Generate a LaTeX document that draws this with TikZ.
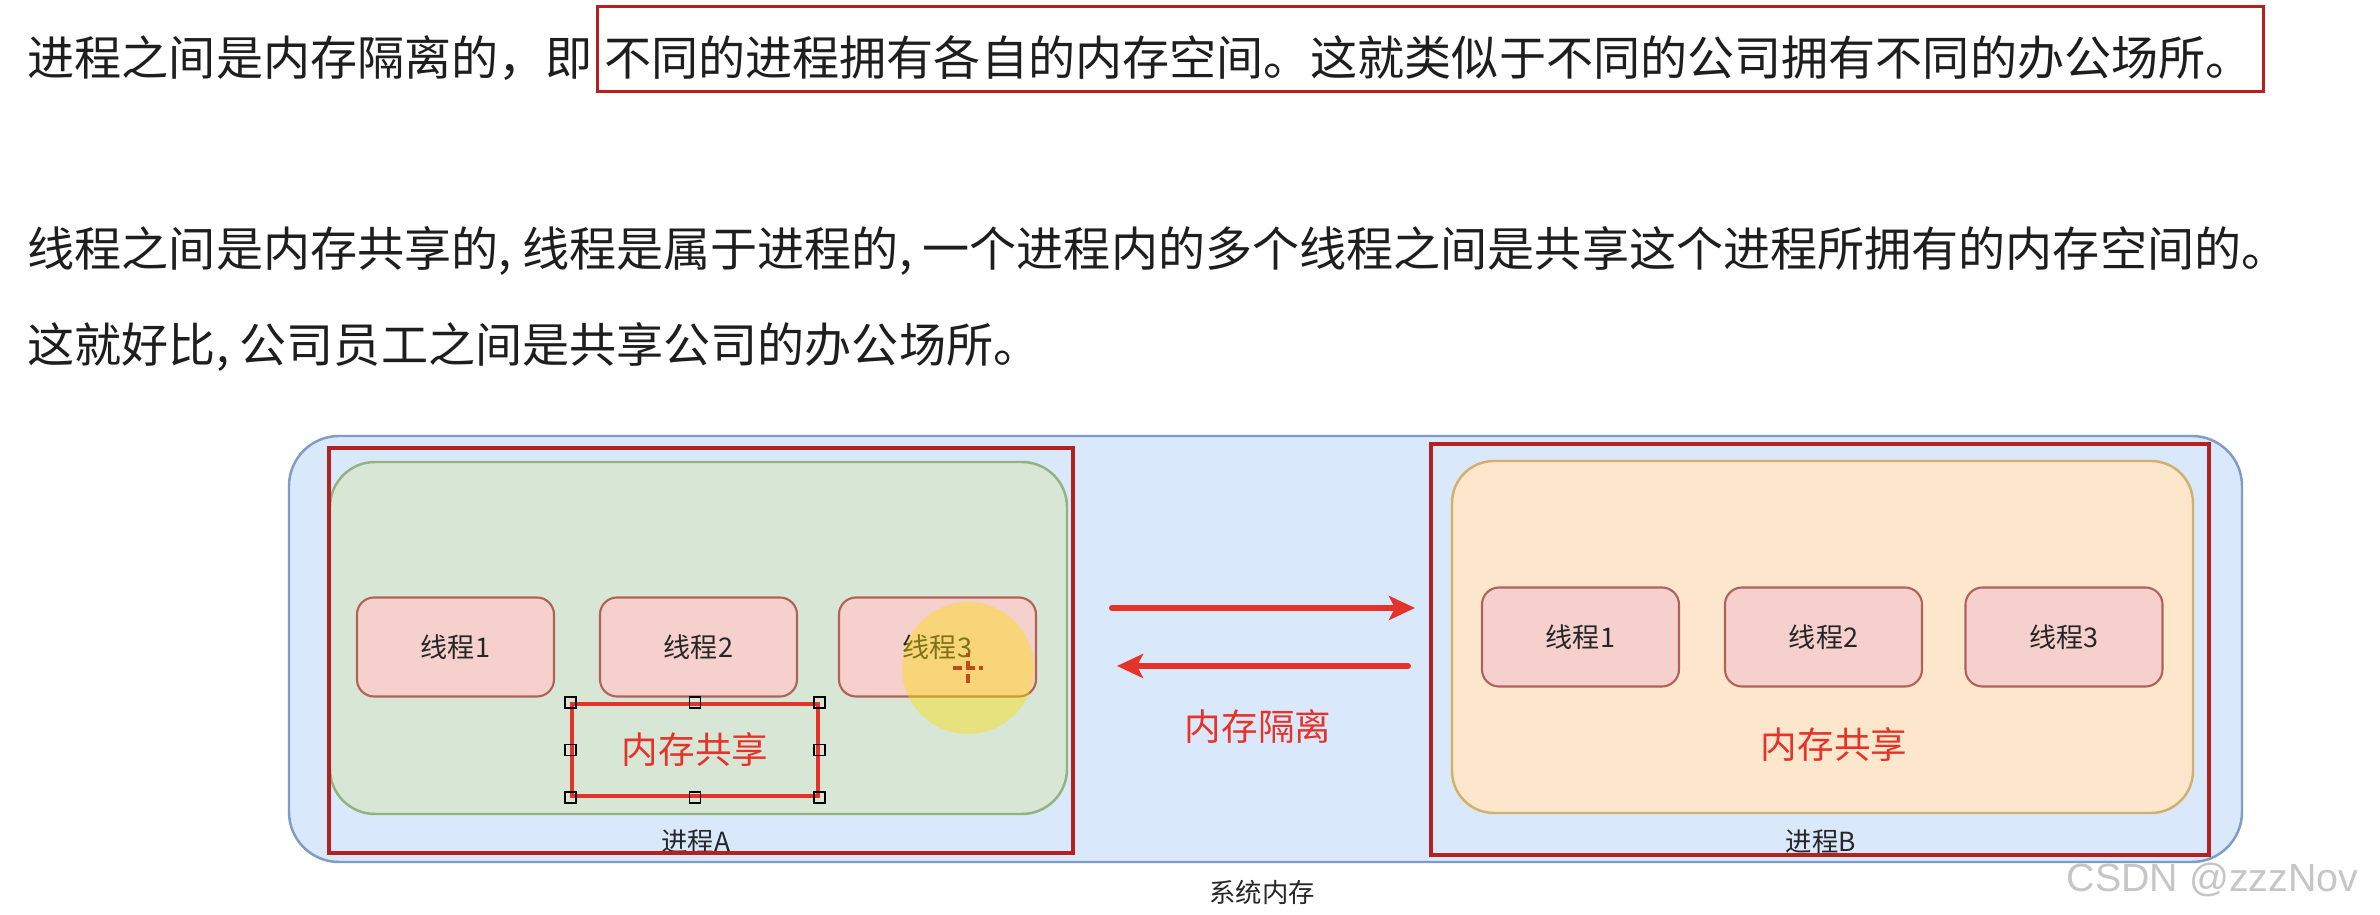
\documentclass[tikz,border=0pt]{standalone}
\usepackage{fontspec}
\setmainfont{Noto Sans CJK SC}
\newfontfamily\wmfont{Liberation Sans}
\usetikzlibrary{arrows.meta, positioning}
\definecolor{memblue}{HTML}{DAE8FC}
\definecolor{memline}{HTML}{7E9CC8}
\definecolor{procgreen}{HTML}{D7E6D5}
\definecolor{greenline}{HTML}{93B27E}
\definecolor{procorange}{HTML}{FDE7CC}
\definecolor{orangeline}{HTML}{D2B06C}
\definecolor{threadpink}{HTML}{F5D0CC}
\definecolor{threadline}{HTML}{B0625A}
\definecolor{markred}{HTML}{B3221E}
\definecolor{isored}{HTML}{E5332A}
\definecolor{bodyink}{HTML}{1E1E1E}
\definecolor{wmgray}{HTML}{C6C6C6}
\definecolor{cursorred}{HTML}{C24A1A}

\begin{document}
\begin{tikzpicture}[
  >={Stealth[length=2.6mm, width=2.4mm, inset=0.6mm]},
  para/.style={font=\fontsize{13.4}{16}\selectfont, text=bodyink, anchor=west, inner sep=0pt},
  thread/.style={draw=threadline, fill=threadpink, rounded corners=1.7mm, line width=0.6pt,
    minimum width=1.97cm, minimum height=0.99cm, inner sep=0pt,
    font=\fontsize{7.7}{9}\selectfont, text=black!85},
  redword/.style={font=\fontsize{10.4}{12}\selectfont, text=isored, inner sep=0pt},
  caption/.style={font=\fontsize{7.5}{9}\selectfont, text=black!85, inner sep=0pt},
  frame/.style={draw=markred, line width=1pt, inner sep=0pt},
  handle/.style={draw=black, line width=0.5pt, minimum size=1.1mm, inner sep=0pt},
  isoarrow/.style={isored, line width=1.7pt, line cap=round},
]

% Page: 2380 x 915 px, 1 cm = 100 px
\fill[white] (0,0) rectangle (23.8,9.15);
\useasboundingbox (0,0) rectangle (23.8,9.15);

% --- Text above the diagram ---
\node[para] (introA) at (0.27,8.57) {进程之间是内存隔离的，即};
\node[para, right=1mm of introA] (introB)
  {不同的进程拥有各自的内存空间。这就类似于不同的公司拥有不同的办公场所。};
\draw[markred, line width=1pt]
  ([shift={(-0.06,0.29)}]introB.north west) rectangle ([shift={(0.10,-0.11)}]introB.south east);

\node[para] (threadline1) at (0.27,6.64)
  {线程之间是内存共享的, 线程是属于进程的, 一个进程内的多个线程之间是共享这个进程所拥有的内存空间的。};
\node[para] (threadline2) at (0.27,5.68)
  {这就好比, 公司员工之间是共享公司的办公场所。};

% --- System memory ---
\node[draw=memline, fill=memblue, rounded corners=5mm, line width=0.7pt,
  minimum width=19.53cm, minimum height=4.26cm] (sysmem) at (12.655,2.66) {};
\node[caption] (sysmemlabel) at (12.62,0.23) {系统内存};

% --- Process A ---
\node[draw=greenline, fill=procgreen, rounded corners=4.5mm, line width=0.7pt,
  minimum width=7.37cm, minimum height=3.52cm] (procA) at (6.985,2.77) {};
\node[thread] (a1) at (4.555,2.68) {线程1};
\node[thread] (a2) at (6.985,2.68) {线程2};
\node[thread] (a3) at (9.375,2.68) {线程3};
\node[redword, draw=isored, line width=1pt, minimum width=2.46cm, minimum height=0.92cm]
  (shareA) at (6.95,1.65) {内存共享};
\node[caption] (procAlabel) at (6.96,0.73) {进程A};

% selection handles round the shared-memory box
\node[handle] (hNW) at (shareA.north west) {};
\node[handle] (hN)  at (shareA.north) {};
\node[handle] (hNE) at (shareA.north east) {};
\node[handle] (hW)  at (shareA.west) {};
\node[handle] (hE)  at (shareA.east) {};
\node[handle] (hSW) at (shareA.south west) {};
\node[handle] (hS)  at (shareA.south) {};
\node[handle] (hSE) at (shareA.south east) {};

% --- Process B ---
\node[draw=orangeline, fill=procorange, rounded corners=4.2mm, line width=0.7pt,
  minimum width=7.41cm, minimum height=3.52cm] (procB) at (18.225,2.78) {};
\node[thread] (b1) at (15.805,2.78) {线程1};
\node[thread] (b2) at (18.235,2.78) {线程2};
\node[thread] (b3) at (20.64,2.78) {线程3};
\node[redword] (shareB) at (18.34,1.70) {内存共享};
\node[caption] (procBlabel) at (18.21,0.73) {进程B};

% --- Isolation arrows ---
\coordinate (isoAout) at (11.12,3.07);
\coordinate (isoBin)  at (14.15,3.07);
\coordinate (isoBout) at (14.08,2.49);
\coordinate (isoAin)  at (11.17,2.49);
\draw[isoarrow, ->] (isoAout) -- (isoBin);
\draw[isoarrow, ->] (isoBout) -- (isoAin);
\node[redword] (isolabel) at (12.58,1.88) {内存隔离};

% --- Red marking frames ---
\node[frame, minimum width=7.44cm, minimum height=4.05cm] (frameA) at (7.01,2.645) {};
\node[frame, minimum width=7.78cm, minimum height=4.11cm] (frameB) at (18.20,2.655) {};

% --- Pointer highlight ---
\node[circle, fill=yellow!80!orange, opacity=0.42, minimum size=1.32cm] (pointer) at (9.68,2.47) {};
\draw[cursorred, line width=1.1pt, dash pattern=on 2.5pt off 1.2pt]
  ([xshift=-1.5mm]pointer.center) -- ([xshift=1.5mm]pointer.center);
\draw[cursorred, line width=1.1pt, dash pattern=on 2.5pt off 1.2pt]
  ([yshift=-1.5mm]pointer.center) -- ([yshift=1.5mm]pointer.center);

% --- Watermark ---
\node[font=\wmfont\fontsize{11.2}{13}\selectfont, text=wmgray, anchor=base west, inner sep=0pt]
  (watermark) at (20.66,0.23) {CSDN @zzzNov};

\end{tikzpicture}
\end{document}
